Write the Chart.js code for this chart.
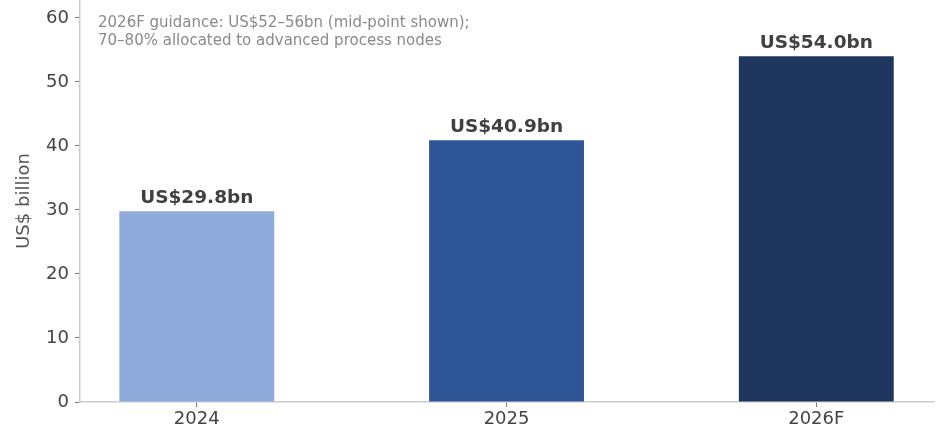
<!DOCTYPE html>
<html>
<head>
<meta charset="utf-8">
<script src="https://cdn.jsdelivr.net/npm/chart.js@4"></script>
<style>
  html, body { margin: 0; padding: 0; background: #fff; }
  #wrap { width: 950px; height: 435px; }
</style>
</head>
<body>
<div id="wrap"><canvas id="grafico"></canvas></div>
<script>
// dados
const anos = ['2024', '2025', '2026F'];
const valores = [29.8, 40.9, 54.0];
const coresBarras = ['#8eabdc', '#2e5596', '#1f365f'];
const rotulos = ['US$29.8bn', 'US$40.9bn', 'US$54.0bn'];
const ticksY = [0, 10, 20, 30, 40, 50, 60];
const nota = [
    '2026F guidance: US$52\u201356bn (mid-point shown);',
    '70\u201380% allocated to advanced process nodes'
];

const fonte = 'DejaVu Sans';

// escreve o valor em cima de cada barra e a nota no canto
const pluginRotulos = {
    id: 'rotulos',
    afterDatasetsDraw(chart) {
        const ctx = chart.ctx;
        const meta = chart.getDatasetMeta(0);
        ctx.save();
        ctx.font = 'bold 18.5px "' + fonte + '"';
        ctx.fillStyle = '#404040';
        ctx.textAlign = 'center';
        ctx.textBaseline = 'bottom';
        meta.data.forEach((barra, i) => {
            ctx.fillText(rotulos[i], barra.x, barra.y - 4);
        });

        ctx.font = '15px "' + fonte + '"';
        ctx.fillStyle = '#8a8a8a';
        ctx.textAlign = 'left';
        ctx.textBaseline = 'middle';
        nota.forEach((linha, i) => {
            ctx.fillText(linha, chart.chartArea.left + 18, 23 + i * 18);
        });
        ctx.restore();
    }
};

const data = {
    datasets: [{
        data: valores.map((v, i) => ({ x: i, y: v })),
        backgroundColor: coresBarras,
        borderWidth: 0,
        barPercentage: 0.5,
        categoryPercentage: 1.0
    }]
};

const config = {
    type: 'bar',
    data: data,
    plugins: [pluginRotulos],
    options: {
        responsive: false,
        animation: false,
        layout: { padding: { left: 14, right: 16, top: 0, bottom: 0 } },
        plugins: {
            legend: { display: false },
            tooltip: { enabled: false }
        },
        scales: {
            x: {
                type: 'linear',
                offset: false,
                min: -0.377,
                max: 2.38,
                afterBuildTicks: (scale) => {
                    scale.ticks = anos.map((a, i) => ({ value: i }));
                },
                afterFit: (scale) => {
                    scale.height = 33;
                    scale.paddingLeft = 0;
                    scale.paddingRight = 0;
                },
                ticks: {
                    callback: (v) => anos[v],
                    color: '#444',
                    font: { family: fonte, size: 18 },
                    padding: 2,
                    maxRotation: 0
                },
                grid: {
                    offset: false,
                    drawOnChartArea: false,
                    tickLength: 5,
                    color: '#777'
                },
                border: { color: '#cccccc', width: 1.5 }
            },
            y: {
                min: 0,
                max: 62.8,
                afterBuildTicks: (scale) => {
                    scale.ticks = ticksY.map(v => ({ value: v }));
                },
                afterFit: (scale) => {
                    scale.width = 66;
                    scale.paddingTop = 0;
                    scale.paddingBottom = 0;
                },
                title: {
                    display: true,
                    text: 'US$ billion',
                    color: '#555',
                    font: { family: fonte, size: 18 },
                    padding: { top: 0, bottom: 4 }
                },
                ticks: {
                    color: '#444',
                    font: { family: fonte, size: 18 },
                    padding: 6
                },
                grid: {
                    drawOnChartArea: false,
                    tickLength: 5,
                    color: '#777'
                },
                border: { color: '#cccccc', width: 1.5 }
            }
        }
    }
};

const canvas = document.getElementById('grafico');
canvas.width = 950;
canvas.height = 435;
new Chart(canvas, config);
</script>
</body>
</html>
